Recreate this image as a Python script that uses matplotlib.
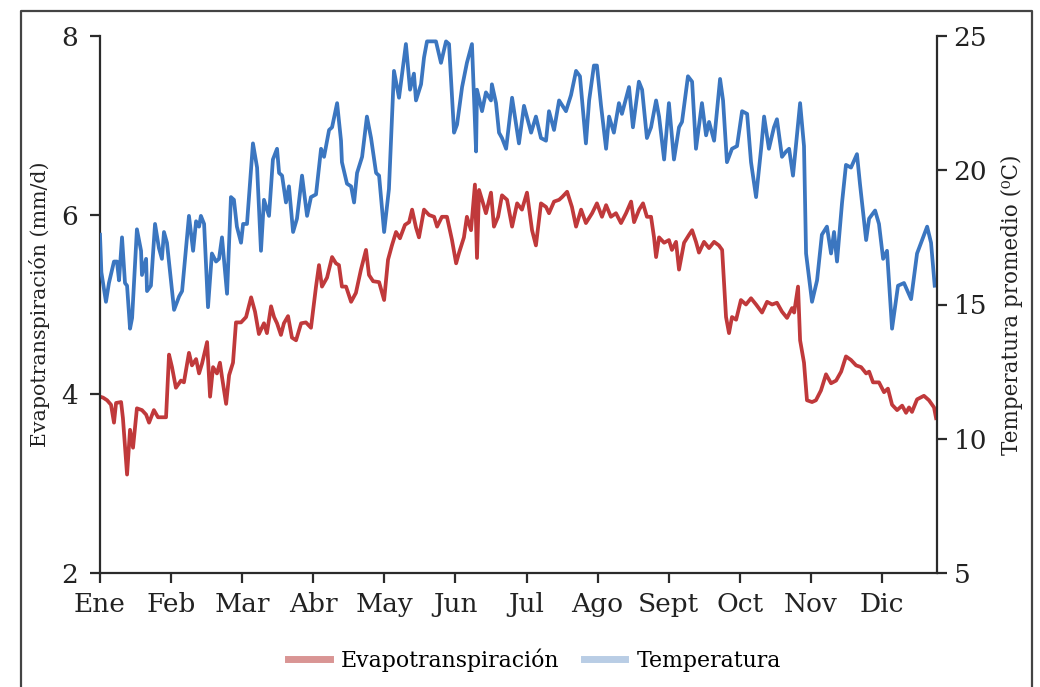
import matplotlib
matplotlib.use("Agg")
import matplotlib.pyplot as plt
from matplotlib.lines import Line2D

plt.rcParams['font.family'] = ['DejaVu Serif']

months = ["Ene", "Feb", "Mar", "Abr", "May", "Jun", "Jul", "Ago", "Sept", "Oct", "Nov", "Dic"]
month_days = [0, 31, 62, 93, 124, 155, 186, 217, 248, 279, 310, 341]

temp_day = [0, 0.6, 2.6, 3.9, 6.1, 7.4, 8.3, 9.6, 10.9, 11.8, 13.1, 14.0, 16.1, 17.9, 18.3, 20.1, 20.5,
            22.2, 24.0, 25.7, 27.0, 27.9, 29.2, 32.3, 34.5, 35.8, 38.8, 40.6, 41.9, 43.2, 44.0, 45.4,
            47.1, 48.8, 50.6, 51.9, 53.2, 55.4, 57.1, 58.4, 59.7, 61.5, 62.4, 64.1, 66.7, 68.5, 70.2,
            71.5, 73.7, 75.4, 77.2, 78.1, 79.4, 81.1, 82.4, 84.2, 85.9, 88.1, 90.3, 92.0, 94.2, 96.4,
            97.7, 99.9, 101.2, 103.4, 105.1, 105.5, 107.7, 109.5, 110.8, 112.1, 114.3, 116.4, 118.2,
            120.4, 121.7, 123.9, 126.0, 128.2, 130.4, 133.4, 135.2, 136.9, 137.8, 140.0, 141.3, 142.6,
            146.5, 148.7, 150.9, 152.2, 154.4, 155.7, 157.9, 160.0, 162.2, 164.0, 164.4, 166.6, 168.3,
            170.5, 170.9, 172.7, 174.0, 175.3, 177.1, 179.7, 182.7, 184.9, 188.0, 190.1, 192.3, 194.5,
            195.8, 198.0, 200.2, 203.2, 205.4, 207.6, 209.3, 211.9, 213.3, 215.4, 216.7, 218.5, 220.7,
            222.0, 224.1, 226.3, 227.6, 230.7, 232.4, 235.0, 236.4, 238.5, 240.3, 242.5, 243.8, 246.0,
            248.1, 250.3, 252.5, 253.8, 256.4, 258.2, 259.9, 262.5, 264.3, 265.6, 267.8, 270.4, 271.7,
            273.4, 275.6, 277.8, 280.0, 282.2, 283.9, 286.1, 288.3, 289.6, 291.7, 293.9, 295.2, 297.4,
            299.2, 300.5, 302.2, 305.3, 307.0, 307.9, 310.5, 312.7, 314.8, 317.0, 318.8, 320.1, 321.4,
            323.6, 325.3, 327.5, 330.1, 331.4, 334.1, 335.4, 338.0, 339.7, 341.5, 343.2, 345.4, 348.0,
            350.6, 353.7, 356.3, 358.5, 360.7, 362.4, 364.0]
temp_val = [17.6, 16.2, 15.1, 15.8, 16.6, 16.6, 15.9, 17.5, 15.8, 15.7, 14.1, 14.5, 17.8, 17.0, 16.1, 16.7, 15.5,
            15.7, 18.0, 17.1, 16.7, 17.7, 17.3, 14.8, 15.3, 15.5, 18.3, 17.0, 18.1, 17.9, 18.3, 18.0,
            14.9, 16.9, 16.6, 16.7, 17.5, 15.4, 19.0, 18.9, 17.9, 17.3, 18.0, 18.0, 21.0, 20.1, 17.0,
            18.9, 18.3, 20.4, 20.8, 19.9, 19.8, 18.8, 19.4, 17.7, 18.2, 19.8, 18.3, 19.0, 19.1, 20.8,
            20.5, 21.5, 21.6, 22.5, 21.1, 20.3, 19.5, 19.4, 18.8, 19.9, 20.5, 22.0, 21.2,
            19.9, 19.8, 17.7, 19.3, 23.7, 22.7, 24.7, 23.0, 23.6, 22.6, 23.2, 24.2, 24.8,
            24.8, 24.0, 24.8, 24.7, 21.4, 21.7, 23.1, 24.0, 24.7, 20.7, 23.0, 22.2, 22.9,
            22.6, 23.2, 22.5, 21.4, 21.2, 20.8, 22.7, 21.0, 22.4, 21.4, 22.0, 21.2, 21.1,
            22.2, 21.5, 22.6, 22.2, 22.8, 23.7, 23.5, 21.0, 22.6, 23.9, 23.9, 22.4, 20.8,
            22.0, 21.4, 22.5, 22.1, 23.1, 21.6, 23.3, 23.0, 21.2, 21.6, 22.6, 22.0, 20.4,
            22.5, 20.4, 21.6, 21.8, 23.5, 23.3, 20.8, 22.5, 21.3, 21.8, 21.1, 23.4, 22.6,
            20.3, 20.8, 20.9, 22.2, 22.1, 20.3, 19.0, 20.8, 22.0, 20.8, 21.6, 21.9, 20.5,
            20.7, 20.8, 19.8, 22.5, 20.9, 16.9, 15.1, 15.9, 17.6, 17.9, 16.9, 17.7, 16.6,
            18.8, 20.2, 20.1, 20.6, 19.5, 17.4, 18.2, 18.5, 18.0, 16.7, 17.0, 14.1, 15.7,
            15.8, 15.2, 16.9, 17.4, 17.9, 17.3, 15.7]

et_day = [0, 1.3, 3.1, 4.8, 6.1, 7.0, 9.2, 10.0, 11.8, 13.1, 14.4, 16.1, 18.3, 20.1, 21.4, 23.5, 25.3,
          28.8, 30.1, 31.4, 33.1, 35.3, 36.6, 38.8, 40.1, 41.9, 43.2, 44.5, 46.7, 48.0, 49.3, 51.0,
          52.3, 53.2, 55.0, 56.3, 58.0, 59.3, 61.5, 63.7, 65.9, 67.6, 69.3, 71.5, 72.8, 74.6, 75.9,
          77.2, 78.9, 80.2, 82.0, 83.7, 85.5, 87.7, 89.8, 92.0, 94.2, 95.5, 96.8, 99.0, 101.2, 102.9,
          104.2, 105.5, 107.3, 109.5, 111.6, 113.8, 116.0, 117.3, 119.1, 121.7, 123.9, 125.6, 127.3,
          129.1, 130.8, 133.0, 134.8, 136.1, 137.8, 139.1, 141.3, 143.5, 145.7, 147.0, 149.1, 151.3,
          153.5, 155.3, 156.6, 158.7, 160.0, 161.8, 163.5, 164.4, 165.3, 166.6, 168.3, 170.5, 171.8,
          173.6, 175.3, 177.5, 179.7, 181.9, 184.0, 186.2, 188.4, 190.1, 192.3, 194.5, 195.8, 198.0,
          200.2, 201.5, 203.7, 205.8, 207.6, 209.8, 211.9, 214.6, 216.7, 218.9, 220.7, 222.8, 225.0,
          227.2, 229.4, 231.6, 232.9, 235.1, 236.8, 238.5, 240.3, 241.6, 242.5, 243.8, 246.0, 248.1,
          249.4, 251.2, 252.5, 254.7, 256.9, 258.2, 259.9, 261.2, 263.4, 265.6, 267.8, 269.9, 271.3,
          273.0, 274.3, 275.6, 277.4, 279.5, 281.7, 283.9, 286.1, 288.7, 290.9, 293.1, 295.2, 297.4,
          299.6, 301.8, 302.7, 304.4, 305.3, 307.0, 308.3, 310.5, 312.2, 314.4, 316.6, 318.8, 321.0,
          323.2, 325.3, 327.5, 329.7, 331.9, 334.1, 335.4, 337.1, 339.7, 341.9, 343.6, 345.4, 347.6,
          349.8, 351.5, 352.8, 354.1, 356.3, 359.3, 361.5, 363.7, 364.6]
et_val = [3.97, 3.96, 3.93, 3.88, 3.68, 3.90, 3.91, 3.73, 3.10, 3.60, 3.40, 3.84, 3.82, 3.77, 3.68, 3.82, 3.74,
          3.74, 4.44, 4.30, 4.07, 4.15, 4.13, 4.46, 4.32, 4.39, 4.23, 4.34, 4.58, 3.97, 4.30, 4.23,
          4.35, 4.19, 3.89, 4.21, 4.35, 4.80, 4.80, 4.86, 5.08, 4.92, 4.67, 4.79, 4.68, 4.98, 4.86,
          4.79, 4.66, 4.79, 4.87, 4.63, 4.60, 4.79, 4.80, 4.74, 5.20, 5.44, 5.20, 5.30, 5.53, 5.46,
          5.44, 5.20, 5.20, 5.03, 5.13, 5.39, 5.61, 5.33, 5.26, 5.25, 5.05, 5.50, 5.66,
          5.81, 5.74, 5.89, 5.92, 6.06, 5.86, 5.75, 6.06, 6.00, 5.98, 5.87, 5.98, 5.98,
          5.72, 5.46, 5.58, 5.75, 5.98, 5.83, 6.34, 5.52, 6.28, 6.17, 6.02, 6.25, 5.87,
          5.98, 6.22, 6.17, 5.87, 6.13, 6.06, 6.25, 5.83, 5.66, 6.13, 6.09, 6.02, 6.15,
          6.17, 6.20, 6.26, 6.09, 5.87, 6.06, 5.91, 6.02, 6.13, 5.98, 6.11, 5.98, 6.02,
          5.91, 6.02, 6.15, 5.92, 6.06, 6.13, 5.98, 5.98, 5.75, 5.53, 5.75, 5.69, 5.72,
          5.61, 5.70, 5.39, 5.69, 5.78, 5.83, 5.70, 5.58, 5.70, 5.63, 5.70, 5.66, 5.61,
          4.86, 4.68, 4.86, 4.83, 5.05, 5.00, 5.07, 5.00, 4.91, 5.03, 5.00, 5.02, 4.92,
          4.85, 4.96, 4.91, 5.20, 4.60, 4.35, 3.93, 3.91, 3.93, 4.04, 4.22, 4.12, 4.15,
          4.25, 4.42, 4.38, 4.32, 4.30, 4.23, 4.25, 4.13, 4.13, 4.02, 4.06, 3.88, 3.82,
          3.87, 3.79, 3.85, 3.80, 3.94, 3.98, 3.93, 3.85, 3.73]

et_color = "#c0393b"
temp_color = "#3b76c0"
spine_color = "#2b2b2b"

fig = plt.figure(figsize=(10.40, 6.87), dpi=100)
ax = fig.add_axes([100 / 1040, 1 - 573 / 687, (937 - 100) / 1040, (573 - 36) / 687])
ax2 = ax.twinx()

ax.plot(et_day, et_val, color=et_color, lw=2.7, solid_joinstyle='round')
ax2.plot(temp_day, temp_val, color=temp_color, lw=2.7, solid_joinstyle='round')

ax.set_xlim(0, 365)
ax.set_ylim(2, 8)
ax2.set_ylim(5, 25)
ax.set_yticks([2, 4, 6, 8])
ax2.set_yticks([5, 10, 15, 20, 25])
ax.set_xticks(month_days)
ax.set_xticklabels(months)

for a in (ax, ax2):
    a.spines['top'].set_visible(False)
    for s in a.spines.values():
        s.set_color(spine_color)
        s.set_linewidth(1.6)
ax.spines['right'].set_visible(False)
ax2.spines['left'].set_visible(False)
ax2.spines['bottom'].set_visible(False)

ax.tick_params(axis='y', direction='out', length=7, width=1.6, color=spine_color,
               labelsize=19, pad=9, labelcolor='#222222')
ax.tick_params(axis='x', direction='out', length=7, width=1.6, color=spine_color,
               labelsize=19, pad=7, labelcolor='#222222')
ax2.tick_params(axis='y', direction='out', length=7, width=1.6, color=spine_color,
                labelsize=19, pad=5, labelcolor='#222222')

ax.set_ylabel("Evapotranspiración (mm/d)", fontsize=14.8, color='#222222', labelpad=8)
ax2.set_ylabel("Temperatura promedio (⁰C)", fontsize=15.5, color='#222222', labelpad=10)

handles = [Line2D([], [], color="#d99594", lw=5),
           Line2D([], [], color="#b9cde5", lw=5)]
fig.legend(handles, ["Evapotranspiración", "Temperatura"], loc='center',
           bbox_to_anchor=(0.514, 0.039), ncol=2, frameon=False, fontsize=15.8,
           handlelength=1.9, handletextpad=0.5, columnspacing=1.1)

# outer frame (left, top, right)
fx = [21 / 1040, 21 / 1040, 1032 / 1040, 1032 / 1040]
fy = [0, 1 - 11 / 687, 1 - 11 / 687, 0]
fig.add_artist(Line2D(fx, fy, color='#444444', lw=1.6, transform=fig.transFigure))

fig.savefig("out.png", dpi=100)
